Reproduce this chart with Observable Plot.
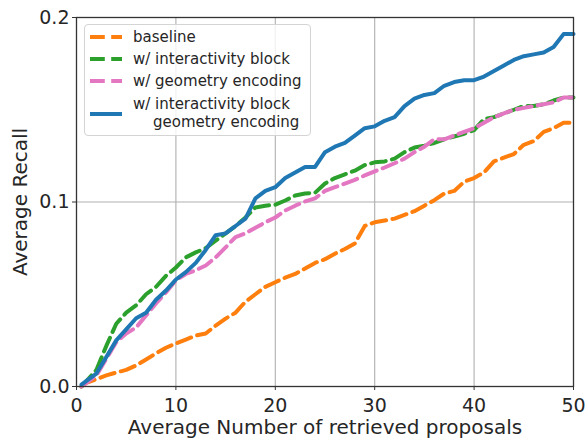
<!DOCTYPE html>
<html><head><meta charset="utf-8">
<script src="https://cdn.jsdelivr.net/npm/d3@7"></script>
<script src="https://cdn.jsdelivr.net/npm/@observablehq/plot@0.6"></script>
<style>
body{margin:0;background:#fff;}
#wrap{position:relative;width:586px;height:443px;font-family:"DejaVu Sans",sans-serif;color:#262626;}
#legendbox{position:absolute;left:84px;top:24px;width:227px;height:112px;border:1px solid #d4d4d4;border-radius:4px;background:rgba(255,255,255,0.8);box-sizing:border-box;}
.lt{position:absolute;font-size:15px;line-height:18px;white-space:nowrap;color:#262626;}
#sw{position:absolute;left:0;top:0;}
</style></head><body><div id="wrap"></div>
<script>
const xs = [0.5,1,2,3,4,5,6,7,8,9,10,11,12,13,14,15,16,17,18,19,20,21,22,23,24,25,26,27,28,29,30,31,32,33,34,35,36,37,38,39,40,41,42,43,44,45,46,47,48,49,50];
const baseline = [0.0,0.002,0.004,0.006,0.0076,0.009,0.0114,0.0146,0.018,0.021,0.0233,0.0254,0.0276,0.0287,0.033,0.0368,0.040,0.046,0.050,0.054,0.0565,0.059,0.061,0.064,0.067,0.069,0.072,0.0745,0.0775,0.087,0.089,0.090,0.091,0.093,0.095,0.098,0.101,0.1046,0.106,0.111,0.113,0.116,0.122,0.124,0.126,0.131,0.133,0.138,0.140,0.143,0.143];
const interactivity = [0.0,0.003,0.009,0.022,0.034,0.040,0.044,0.050,0.054,0.060,0.0645,0.070,0.0727,0.075,0.079,0.083,0.087,0.0916,0.097,0.098,0.0985,0.1008,0.1035,0.1046,0.105,0.110,0.113,0.115,0.117,0.120,0.1215,0.122,0.1235,0.127,0.1295,0.1305,0.132,0.134,0.1355,0.137,0.139,0.145,0.146,0.148,0.150,0.152,0.152,0.153,0.155,0.1566,0.1566];
const geometry = [0.0,0.002,0.006,0.015,0.024,0.0287,0.032,0.0385,0.045,0.051,0.0575,0.061,0.063,0.0656,0.070,0.0754,0.081,0.083,0.086,0.089,0.0916,0.0954,0.098,0.1003,0.102,0.106,0.108,0.110,0.112,0.1144,0.1166,0.1187,0.121,0.1235,0.127,0.130,0.134,0.134,0.136,0.138,0.140,0.143,0.146,0.148,0.150,0.151,0.152,0.153,0.154,0.1566,0.1566];
const both = [0.001,0.003,0.007,0.016,0.025,0.031,0.037,0.040,0.047,0.052,0.058,0.062,0.067,0.074,0.082,0.083,0.087,0.091,0.102,0.106,0.108,0.113,0.116,0.119,0.119,0.127,0.130,0.132,0.136,0.140,0.141,0.144,0.146,0.152,0.156,0.158,0.159,0.163,0.165,0.166,0.166,0.168,0.171,0.174,0.177,0.179,0.180,0.181,0.184,0.191,0.191];
const seriesNames = ["baseline","w/ interactivity block","w/ geometry encoding","w/ interactivity block\ngeometry encoding"];
const seriesColors = ["#ff7f0e","#2ca02c","#e377c2","#1f77b4"];
const xTicks = [0,10,20,30,40,50];
const yTicks = [0,0.1,0.2];
const xLabel = "Average Number of retrieved proposals";
const yLabel = "Average Recall";

const allSeries = [baseline, interactivity, geometry, both];
const rows = allSeries.map((vals, i) => xs.map((x, j) => ({x, y: vals[j], s: i})));
const dash = "14.8,6.4";

const chart = Plot.plot({
  width: 586, height: 443,
  marginLeft: 76, marginRight: 13, marginTop: 17, marginBottom: 57,
  x: {domain: [0, 50]},
  y: {domain: [0, 0.2]},
  style: {fontFamily: "DejaVu Sans", background: "white", color: "#262626"},
  marks: [
    Plot.gridX([10,20,30,40], {stroke: "#b0b0b0", strokeOpacity: 1, strokeWidth: 1.1}),
    Plot.gridY([0.1], {stroke: "#b0b0b0", strokeOpacity: 1, strokeWidth: 1.1}),
    Plot.line(rows[0], {x: "x", y: "y", stroke: seriesColors[0], strokeWidth: 4, strokeDasharray: dash}),
    Plot.line(rows[1], {x: "x", y: "y", stroke: seriesColors[1], strokeWidth: 4, strokeDasharray: dash}),
    Plot.line(rows[2], {x: "x", y: "y", stroke: seriesColors[2], strokeWidth: 4, strokeDasharray: dash}),
    Plot.line(rows[3], {x: "x", y: "y", stroke: seriesColors[3], strokeWidth: 4}),
    Plot.frame({stroke: "#333", strokeWidth: 1.3}),
    Plot.axisX({ticks: xTicks, tickSize: 4, tickPadding: 8, fontSize: 19, label: null, stroke: "#333"}),
    Plot.axisY({ticks: yTicks, tickFormat: d3.format(".1f"), tickSize: 4, tickPadding: 3, fontSize: 19, label: null, stroke: "#333"}),
    Plot.text([xLabel], {text: d => d, frameAnchor: "bottom", lineAnchor: "bottom", dy: 47, fontSize: 20, fill: "#262626"}),
    Plot.text([yLabel], {text: d => d, frameAnchor: "left", rotate: -90, lineAnchor: "middle", textAnchor: "middle", dx: -56, fontSize: 20, fill: "#262626"})
  ]
});

const wrap = document.getElementById("wrap");
wrap.appendChild(chart);

// legend overlay
const box = document.createElement("div");
box.id = "legendbox";
wrap.appendChild(box);
const ns = "http://www.w3.org/2000/svg";
const sw = document.createElementNS(ns, "svg");
sw.setAttribute("width", 586); sw.setAttribute("height", 443); sw.id = "sw";
sw.style.pointerEvents = "none";
const rowY = [37, 59, 81, 114];
seriesNames.forEach((name, i) => {
  const l = document.createElementNS(ns, "line");
  l.setAttribute("x1", 90); l.setAttribute("x2", 122);
  l.setAttribute("y1", rowY[i]); l.setAttribute("y2", rowY[i]);
  l.setAttribute("stroke", seriesColors[i]); l.setAttribute("stroke-width", 4);
  if (i < 3) l.setAttribute("stroke-dasharray", dash);
  sw.appendChild(l);
});
wrap.appendChild(sw);
const textPos = [[133, 37], [133, 59], [133, 81], [133, 104], [153, 122]];
const textStr = [seriesNames[0], seriesNames[1], seriesNames[2], ...seriesNames[3].split("\n")];
textStr.forEach((t, i) => {
  const d = document.createElement("div");
  d.className = "lt";
  d.textContent = t;
  d.style.left = textPos[i][0] + "px";
  d.style.top = (textPos[i][1] - 9) + "px";
  wrap.appendChild(d);
});
</script></body></html>
